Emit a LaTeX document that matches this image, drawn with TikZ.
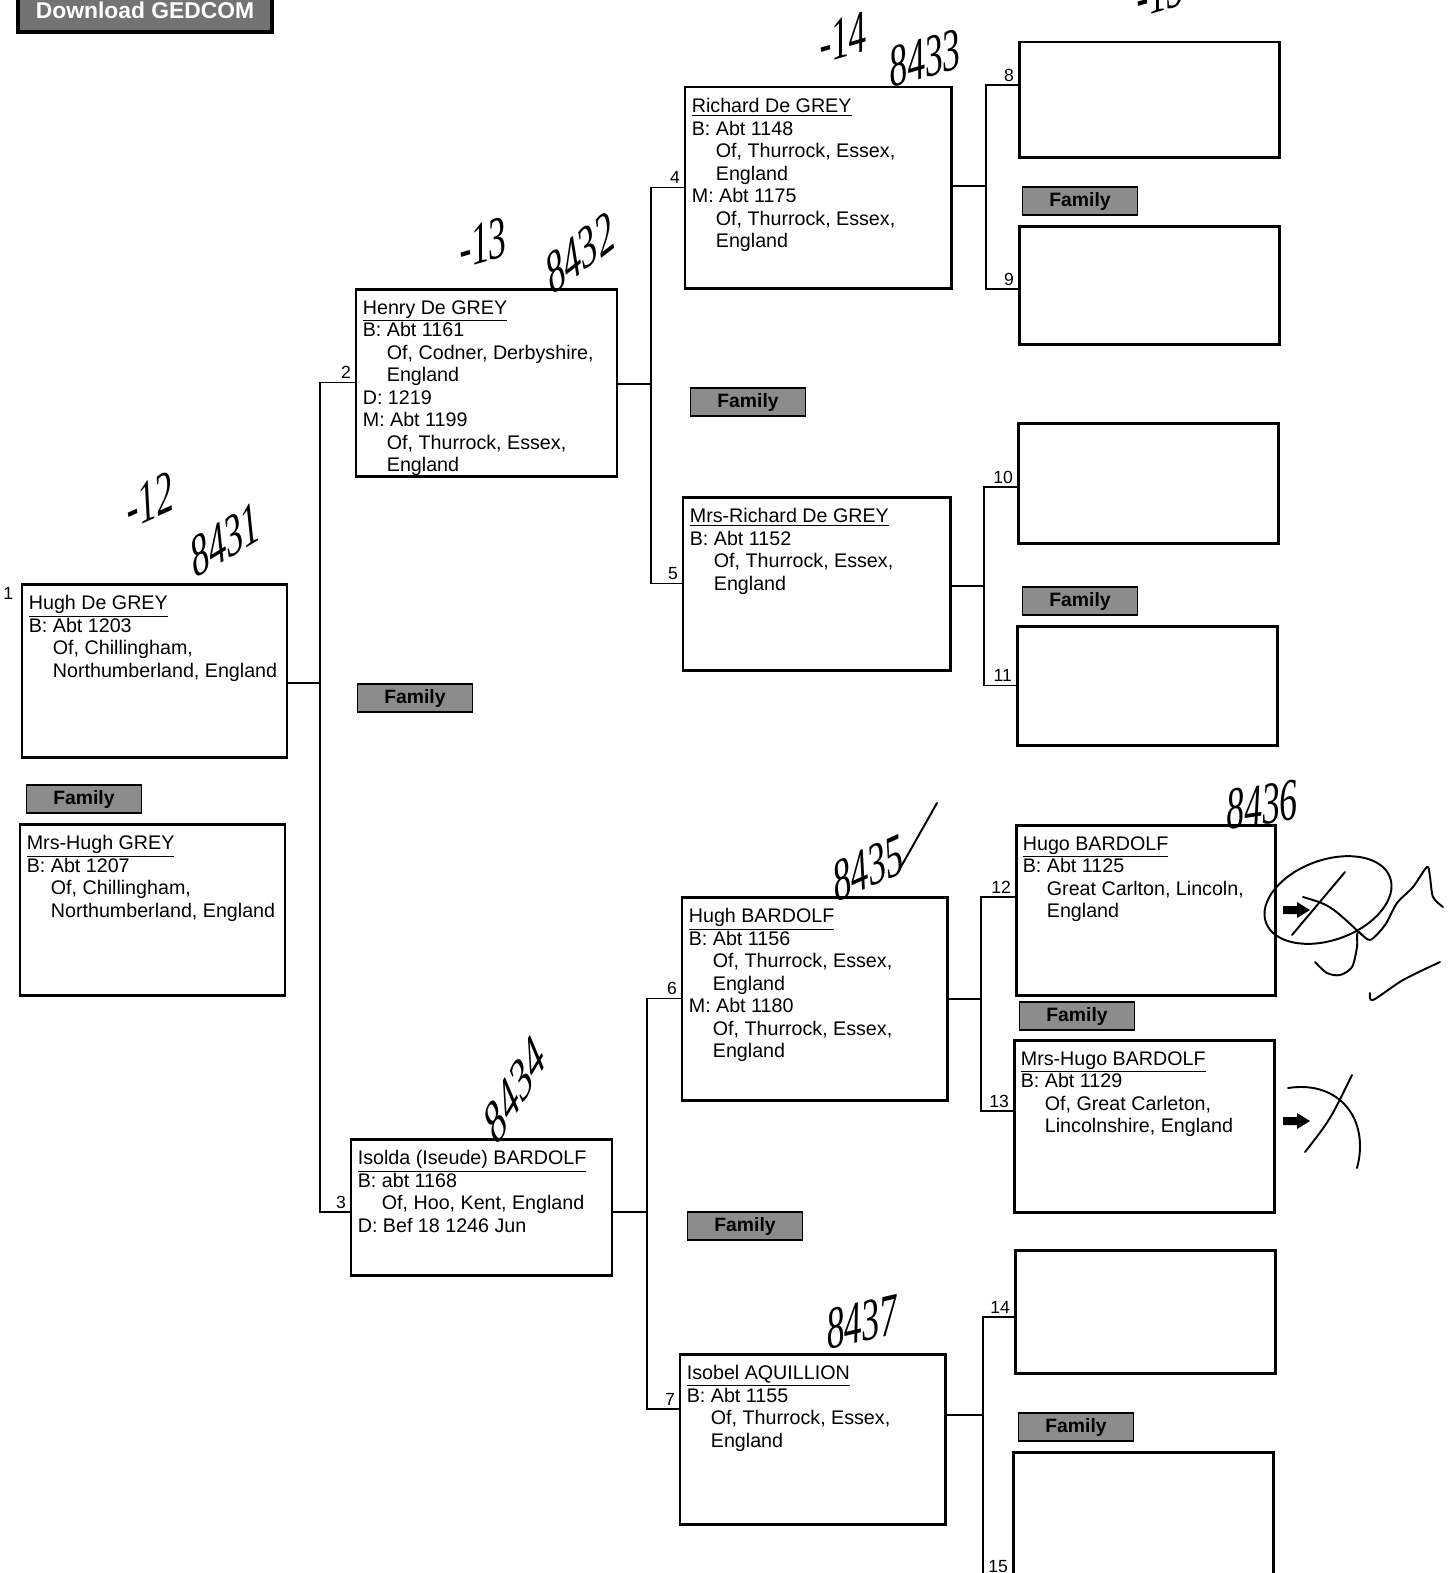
\documentclass[tikz,border=0pt]{standalone}
\usepackage{fontspec}
\setmainfont{Liberation Sans}
\newfontfamily\handschrift{Liberation Serif}
\usetikzlibrary{positioning,fit}

\newcommand{\einr}{\hphantom{B: }}

\begin{document}
\begin{tikzpicture}[x=0.02cm,y=-0.02cm]
    \tikzset{
        person/.style={draw=black, line width=1.7pt, inner sep=0pt},
        eintrag/.style={anchor=north west, align=left, inner sep=0pt, font=\fontsize{11.2}{12.8}\selectfont},
        nummer/.style={anchor=south east, inner sep=1.5pt, font=\fontsize{10}{11}\selectfont},
        linie/.style={line width=1.1pt},
        familie/.style={draw=black, line width=1pt, fill=black!45, minimum width=2.3cm, minimum height=0.56cm, inner sep=0pt, font=\fontsize{11}{12}\selectfont\bfseries},
        notiz/.style={inner sep=0pt, xscale=0.6, font=\fontsize{34}{34}\selectfont\handschrift\itshape},
        strich/.style={line width=1.1pt, line cap=round}
    }
    \useasboundingbox (0,0) rectangle (1453,1573);
    \clip (0,0) rectangle (1453,1573);

    % Knopf oben
    \node[draw=black, line width=2pt, fill=black!55, text=white, minimum width=5.08cm, minimum height=0.88cm,
          font=\fontsize{13}{14}\selectfont\bfseries] (gedcom) at (145,10) {Download GEDCOM};

    % Generation 1
    \node[person, fit={(22,584) (287,757)}] (p1) {};
    \node[eintrag] at ([xshift=0.16cm,yshift=-0.25cm]p1.north west) {\underline{Hugh De GREY}\\B: Abt 1203\\\einr Of, Chillingham,\\\einr Northumberland, England};
    \node[nummer, anchor=north east] at ([xshift=-0.09cm,yshift=-0.03cm]p1.north west) {1};
    \node[person, fit={(20,824) (285,995)}] (ehe1) {};
    \node[eintrag] at ([xshift=0.16cm,yshift=-0.25cm]ehe1.north west) {\underline{Mrs-Hugh GREY}\\B: Abt 1207\\\einr Of, Chillingham,\\\einr Northumberland, England};

    % Generation 2
    \node[person, fit={(356,289) (617,476)}] (p2) {};
    \node[eintrag] at ([xshift=0.16cm,yshift=-0.25cm]p2.north west) {\underline{Henry De GREY}\\B: Abt 1161\\\einr Of, Codner, Derbyshire,\\\einr England\\D: 1219\\M: Abt 1199\\\einr Of, Thurrock, Essex,\\\einr England};
    \node[person, fit={(351,1139) (612,1275)}] (p3) {};
    \node[eintrag] at ([xshift=0.16cm,yshift=-0.25cm]p3.north west) {\underline{Isolda (Iseude) BARDOLF}\\B: abt 1168\\\einr Of, Hoo, Kent, England\\D: Bef 18 1246 Jun};

    % Generation 3
    \node[person, fit={(685,87) (951,288)}] (p4) {};
    \node[eintrag] at ([xshift=0.16cm,yshift=-0.25cm]p4.north west) {\underline{Richard De GREY}\\B: Abt 1148\\\einr Of, Thurrock, Essex,\\\einr England\\M: Abt 1175\\\einr Of, Thurrock, Essex,\\\einr England};
    \node[person, fit={(683,497) (950,670)}] (p5) {};
    \node[eintrag] at ([xshift=0.16cm,yshift=-0.25cm]p5.north west) {\underline{Mrs-Richard De GREY}\\B: Abt 1152\\\einr Of, Thurrock, Essex,\\\einr England};
    \node[person, fit={(682,897) (947,1100)}] (p6) {};
    \node[eintrag] at ([xshift=0.16cm,yshift=-0.25cm]p6.north west) {\underline{Hugh BARDOLF}\\B: Abt 1156\\\einr Of, Thurrock, Essex,\\\einr England\\M: Abt 1180\\\einr Of, Thurrock, Essex,\\\einr England};
    \node[person, fit={(680,1354) (945,1524)}] (p7) {};
    \node[eintrag] at ([xshift=0.16cm,yshift=-0.25cm]p7.north west) {\underline{Isobel AQUILLION}\\B: Abt 1155\\\einr Of, Thurrock, Essex,\\\einr England};

    % Generation 4
    \foreach \n/\xa/\ya/\xb/\yb in {8/1019/42/1279/157, 9/1019/226/1279/344, 10/1018/423/1278/543,
        11/1017/626/1277/745, 12/1016/825/1275/995, 13/1014/1040/1274/1212,
        14/1015/1250/1275/1373, 15/1013/1452/1273/1700} {
        \node[person, fit={(\xa,\ya) (\xb,\yb)}] (p\n) {};
    }
    \node[eintrag] at ([xshift=0.16cm,yshift=-0.25cm]p12.north west) {\underline{Hugo BARDOLF}\\B: Abt 1125\\\einr Great Carlton, Lincoln,\\\einr England};
    \node[eintrag] at ([xshift=0.16cm,yshift=-0.25cm]p13.north west) {\underline{Mrs-Hugo BARDOLF}\\B: Abt 1129\\\einr Of, Great Carleton,\\\einr Lincolnshire, England};

    % Verbindungen
    \coordinate (s1) at (320,683);
    \coordinate (s2) at (651,384);
    \coordinate (s3) at (647,1212);
    \coordinate (s4) at (986,186);
    \coordinate (s5) at (984,586);
    \coordinate (s6) at (981,999);
    \coordinate (s7) at (983,1415);
    \draw[linie] (s1 -| p1.east) -- (s1);
    \draw[linie] (p2.west) node[nummer] {2} -| (s1) |- ([yshift=-0.1cm]p3.west) node[nummer] {3};
    \draw[linie] (s2 -| p2.east) -- (s2);
    \draw[linie] (p4.west) node[nummer] {4} -| (s2) |- (p5.west) node[nummer] {5};
    \draw[linie] (s3 -| p3.east) -- (s3);
    \draw[linie] (p6.west) node[nummer] {6} -| (s3) |- ([yshift=0.6cm]p7.west) node[nummer] {7};
    \draw[linie] (s4 -| p4.east) -- (s4);
    \draw[linie] ([yshift=0.29cm]p8.west) node[nummer] {8} -| (s4) |- ([yshift=-0.08cm]p9.west) node[nummer] {9};
    \draw[linie] (s5 -| p5.east) -- (s5);
    \draw[linie] ([yshift=-0.08cm]p10.west) node[nummer] {10} -| (s5) |- (p11.west) node[nummer] {11};
    \draw[linie] (s6 -| p6.east) -- (s6);
    \draw[linie] ([yshift=0.26cm]p12.west) node[nummer] {12} -| (s6) |- ([yshift=0.3cm]p13.west) node[nummer] {13};
    \draw[linie] (s7 -| p7.east) -- (s7);
    \draw[linie] ([yshift=-0.11cm]p14.west) node[nummer] {14} -| (s7) |- (p15.west) node[nummer] {15};

    % Family-Knoepfe
    \foreach \x/\y [count=\k] in {84/799, 415/698, 748/402, 745/1226, 1080/201, 1080/601, 1077/1016, 1076/1427} {
        \node[familie] (fam\k) at (\x,\y) {Family};
    }

    % Pfeile rechts
    \foreach \y in {910,1121} {
        \fill (1283,\y-4) -- ++(14,0) -- ++(0,-4) -- ++(13,8) -- ++(-13,8) -- ++(0,-4) -- ++(-14,0) -- cycle;
    }

    % Handschrift
    \node[notiz, rotate=15] (n12) at (150,500) {-12};
    \node[notiz, rotate=20] (k8431) at (225,540) {8431};
    \node[notiz, rotate=10] (n13) at (483,243) {-13};
    \node[notiz, rotate=25] (k8432) at (580,253) {8432};
    \node[notiz, rotate=10] (n14) at (843,38) {-14};
    \node[notiz, rotate=10] (k8433) at (925,58) {8433};
    \node[notiz, rotate=10] (n15) at (1160,-8) {-15};
    \node[notiz, rotate=15] (k8435) at (868,868) {8435};
    \node[notiz, rotate=45] (k8434) at (515,1090) {8434};
    \node[notiz, rotate=5] (k8436) at (1262,805) {8436};
    \node[notiz, rotate=8] (k8437) at (862,1322) {8437};
    \draw[strich] (898,872) -- (937,803);
    \draw[strich, rotate around={20:(1328,900)}] (1328,900) ellipse [x radius=66, y radius=40];
    \draw[strich] (1292,935) -- (1345,872);
    \draw[strich] (1303,897) .. controls (1330,905) .. (1362,935);
    \draw[strich] (1305,1152) .. controls (1330,1120) .. (1352,1075);
    \draw[strich] (1288,1088) .. controls (1340,1080) and (1370,1120) .. (1357,1168);
    \draw[strich] plot[smooth] coordinates {(1315,962) (1327,973) (1340,975) (1352,967) (1357,947) (1358,932)
        (1370,940) (1385,925) (1397,903) (1413,887) (1427,867) (1430,877) (1433,897) (1443,907)};
    \draw[strich] plot[smooth] coordinates {(1440,962) (1403,980) (1373,1000) (1370,993)};

\end{tikzpicture}
\end{document}
